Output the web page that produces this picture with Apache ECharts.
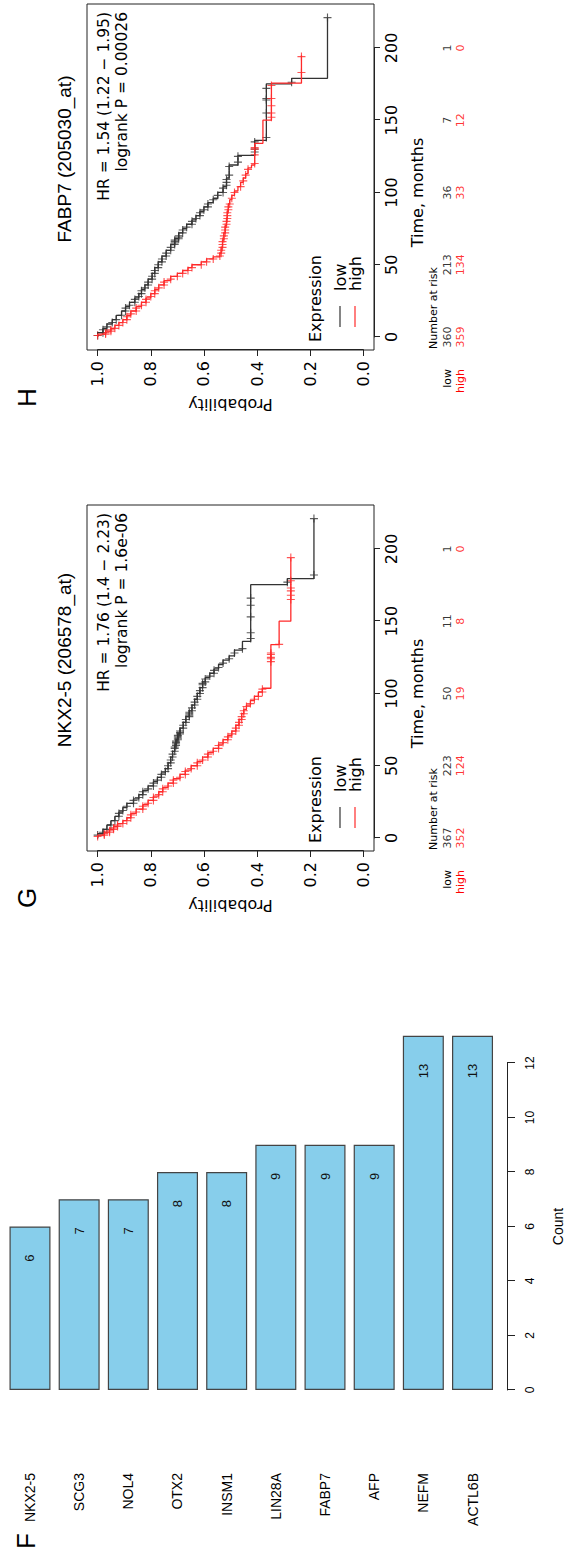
<!DOCTYPE html>
<html>
<head>
<meta charset="utf-8">
<script src="https://cdn.jsdelivr.net/npm/echarts@6/dist/echarts.min.js"></script>
<style>
html,body{margin:0;padding:0;background:#fff;width:570px;height:1553px;overflow:hidden;}
#wrap{position:absolute;left:0;top:0;width:1553px;height:570px;transform-origin:0 0;transform:translate(0px,1553px) rotate(-90deg);background:#fff;}
</style>
</head>
<body>
<div id="wrap"></div>
<script>
// ---------- Panel F data ----------
const categories = ['NKX2-5','SCG3','NOL4','OTX2','INSM1','LIN28A','FABP7','AFP','NEFM','ACTL6B'];
const counts = [6,7,7,8,8,9,9,9,13,13];

// ---------- Panel G (NKX2-5) KM data: [time, survival after time] ----------
const gLowSteps = [[0,1.0],[3,0.98],[6,0.965],[9,0.95],[12,0.935],[15,0.92],[18,0.905],[21,0.89],[24,0.865],[27,0.845],[30,0.83],[33,0.81],[36,0.79],[39,0.775],[42,0.76],[45,0.745],[48,0.735],[52,0.725],[56,0.718],[60,0.71],[64,0.705],[68,0.698],[72,0.69],[76,0.678],[80,0.668],[84,0.655],[88,0.645],[92,0.635],[96,0.625],[100,0.615],[104,0.605],[108,0.595],[111,0.578],[114,0.562],[117,0.545],[120,0.528],[123,0.505],[126,0.485],[130,0.455],[136,0.424],[175.3,0.286],[179.4,0.186],[221,0.186]];
const gLowCensor = [2,4,6,9,12,15,17,19,22,24,26,28,30,32,34,36,38,40,42,44,46,48,50,52,54,56,58,60,62,63,64,65,66,67,68,69,70,71,72,73,74,76,78,80,82,84,85,86,87,88,90,92,94,96,98,100,102,104,106,107,108,110,112,114,116,118,121,124,128,131,138,142,153,161,166,177,182,221];
const gHighSteps = [[0,1.0],[2,0.975],[4,0.955],[6,0.94],[8,0.925],[10,0.905],[12,0.89],[14,0.875],[17,0.855],[20,0.83],[23,0.81],[26,0.79],[29,0.77],[32,0.755],[35,0.735],[38,0.715],[41,0.69],[44,0.67],[47,0.648],[50,0.625],[53,0.605],[56,0.585],[59,0.565],[62,0.545],[65,0.528],[68,0.51],[71,0.495],[74,0.48],[78,0.468],[82,0.458],[86,0.45],[89,0.44],[92,0.425],[95,0.41],[98,0.395],[101,0.38],[103.6,0.348],[133.8,0.317],[150,0.273],[194,0.273]];
const gHighCensor = [1,2,3,4,5,6,7,8,9,10,12,14,16,18,20,22,24,26,28,30,32,34,36,38,40,42,44,46,48,50,52,54,56,58,60,62,64,66,68,70,72,74,76,78,80,82,84,86,88,91,93,96,98,101,103,122,124,125,127,128,134,165,168,171,173,178,194];

// ---------- Panel H (FABP7) KM data ----------
const hLowSteps = [[0,1.0],[3,0.98],[6,0.965],[9,0.945],[12,0.93],[15,0.91],[18,0.895],[21,0.88],[24,0.86],[27,0.845],[30,0.835],[33,0.822],[36,0.81],[40,0.795],[44,0.785],[48,0.772],[52,0.758],[56,0.742],[60,0.725],[64,0.71],[68,0.695],[72,0.68],[75,0.665],[78,0.645],[81,0.63],[84,0.615],[87,0.6],[90,0.585],[93,0.565],[96,0.548],[100,0.528],[104,0.515],[110,0.505],[119,0.472],[125.7,0.409],[136,0.365],[175.2,0.27],[179,0.135],[221,0.135]];
const hLowCensor = [1,3,5,7,10,12,15,18,20,22,24,26,28,30,32,34,36,38,40,42,44,46,48,50,52,54,56,58,60,62,64,65,66,67,68,69,70,72,74,76,78,80,82,84,86,88,90,92,95,98,100,103,105,107,109,112,118,121,125,128,130,135,138,155,164,165,172,176.3,221];
const hHighSteps = [[0,1.0],[2,0.97],[4,0.95],[6,0.935],[8,0.92],[10,0.905],[12,0.89],[15,0.875],[18,0.855],[21,0.835],[24,0.818],[27,0.8],[30,0.785],[33,0.77],[36,0.75],[39,0.725],[42,0.7],[44,0.68],[46,0.66],[48,0.645],[50,0.61],[52,0.59],[54,0.565],[55.5,0.54],[58,0.535],[62,0.53],[67,0.525],[72,0.52],[77,0.515],[82,0.512],[87,0.508],[92,0.503],[95,0.495],[98,0.485],[101,0.472],[104,0.462],[107,0.452],[110,0.443],[113,0.434],[117,0.421],[119,0.409],[134,0.378],[150,0.346],[175.6,0.233],[195,0.233]];
const hHighCensor = [1,2,3,4,5,6,8,10,12,14,16,18,20,22,24,26,28,30,32,34,36,38,40,42,44,46,48,50,52,54,56,58,60,62,64,66,68,70,72,74,76,78,80,82,84,86,88,90,92,96,100,104,108,112,116,120,126,130,131,152,155,160,165,174,183,194];

// ---------- Number at risk ----------
const riskTimes = [0,50,100,150,200];
const gRiskLow = [367,223,50,11,1];
const gRiskHigh = [352,124,19,8,0];
const hRiskLow = [360,213,36,7,1];
const hRiskHigh = [359,134,33,12,0];

// ---------- Texts ----------
const gTitle = 'NKX2-5 (206578_at)';
const hTitle = 'FABP7 (205030_at)';
const gStats = ['HR = 1.76 (1.4 \u2212 2.23)', 'logrank P = 1.6e-06'];
const hStats = ['HR = 1.54 (1.22 \u2212 1.95)', 'logrank P = 0.00026'];

const SANS = "'Liberation Sans', Arial, Helvetica, sans-serif";
const DJ = "'DejaVu Sans', sans-serif";
const PLUS = 'path://M4.3,0L5.7,0L5.7,4.3L10,4.3L10,5.7L5.7,5.7L5.7,10L4.3,10L4.3,5.7L0,5.7L0,4.3L4.3,4.3Z';

function stepAt(steps, t) {
  let p = steps[0][1];
  for (const s of steps) { if (s[0] <= t) p = s[1]; else break; }
  return p;
}

const grid = [], xAxis = [], yAxis = [], series = [], graphic = [];

// ---------- Panel F ----------
grid.push({left:163, top:5.4, width:354.25, height:491.7});
xAxis.push({gridIndex:0, type:'value', min:0, max:13, show:false});
yAxis.push({gridIndex:0, type:'category', data:categories, inverse:true,
  axisLine:{show:false}, axisTick:{show:false},
  axisLabel:{interval:0, margin:83, fontSize:14, color:'#000', fontFamily:SANS}});
grid.push({left:163, top:5, width:327, height:507});
xAxis.push({gridIndex:1, type:'value', min:0, max:12, interval:2,
  axisLine:{show:true, lineStyle:{color:'#222', width:1}},
  axisTick:{show:true, length:8, lineStyle:{color:'#222'}},
  axisLabel:{margin:17, fontSize:12, color:'#000', fontFamily:SANS},
  splitLine:{show:false},
  name:'Count', nameLocation:'middle', nameGap:44,
  nameTextStyle:{fontSize:14, color:'#000', fontFamily:SANS}});
yAxis.push({gridIndex:1, type:'value', show:false, min:0, max:1});
series.push({type:'bar', xAxisIndex:0, yAxisIndex:0, data:counts, barWidth:41,
  itemStyle:{color:'#87CEEB', borderColor:'#444', borderWidth:1.2},
  label:{show:true, position:'insideRight', distance:28, fontSize:13, color:'#111', fontFamily:SANS}});
graphic.push({type:'text', x:4, y:26, style:{text:'F', fontSize:26, fontFamily:SANS, fill:'#000', verticalAlign:'middle', align:'left'}});

// ---------- KM panels ----------
function km(dx, letter, title, stats, lowSteps, lowCensor, highSteps, highCensor, riskLow, riskHigh) {
  const g0 = grid.length;
  grid.push({left:702+dx, top:87, width:346, height:287, show:true, borderColor:'#222', borderWidth:1, backgroundColor:'transparent'});
  xAxis.push({gridIndex:g0, type:'value', min:-9, max:230.4, show:false});
  yAxis.push({gridIndex:g0, type:'value', min:-0.04, max:1.04, show:false});
  grid.push({left:715+dx, top:87, width:289.06, height:287});
  xAxis.push({gridIndex:g0+1, type:'value', min:0, max:200, interval:50,
    axisLine:{show:true, lineStyle:{color:'#222'}},
    axisTick:{show:true, length:6, lineStyle:{color:'#222'}},
    axisLabel:{margin:9, fontSize:16, color:'#000', fontFamily:DJ},
    splitLine:{show:false},
    name:'Time, months', nameLocation:'middle', nameGap:35,
    nameTextStyle:{fontSize:16, color:'#000', fontFamily:DJ}});
  yAxis.push({gridIndex:g0+1, type:'value', min:0, max:1, show:false});
  grid.push({left:702+dx, top:97.63, width:346, height:265.74});
  xAxis.push({gridIndex:g0+2, type:'value', min:0, max:1, show:false});
  yAxis.push({gridIndex:g0+2, type:'value', min:0, max:1, interval:0.2,
    axisLine:{show:true, lineStyle:{color:'#222'}},
    axisTick:{show:true, length:6, lineStyle:{color:'#222'}},
    axisLabel:{margin:11, fontSize:16, color:'#000', fontFamily:DJ, formatter:v=>v.toFixed(1)},
    splitLine:{show:false},
    name:'Probability', nameLocation:'middle', nameGap:46, nameRotate:90,
    nameTextStyle:{fontSize:16, color:'#000', fontFamily:DJ}});
  grid.push({left:715+dx, top:440.5, width:289.06, height:26});
  xAxis.push({gridIndex:g0+3, type:'value', min:0, max:200, show:false});
  yAxis.push({gridIndex:g0+3, type:'category', data:['low','high'], inverse:true,
    axisLine:{show:false}, axisTick:{show:false},
    axisLabel:{interval:0, hideOverlap:false, margin:32, formatter:v=>'{'+v+'|'+v+'}',
      rich:{low:{color:'#000', fontSize:11, fontFamily:DJ}, high:{color:'#ff0000', fontSize:11, fontFamily:DJ}}}});

  const lines = [[lowSteps, lowCensor, '#333'], [highSteps, highCensor, '#ff2a2a']];
  for (const [st, ce, col] of lines) {
    series.push({type:'line', xAxisIndex:g0, yAxisIndex:g0, data:st, step:'end', symbol:'none',
      lineStyle:{color:col, width:1.3}, silent:true});
    series.push({type:'scatter', xAxisIndex:g0, yAxisIndex:g0, data:ce.map(t=>[t, stepAt(st,t)]),
      symbol:PLUS, symbolSize:8, itemStyle:{color:col}, silent:true});
  }
  const rows = [['low', riskLow, '#000'], ['high', riskHigh, '#ff0000']];
  for (const [name, vals, col] of rows) {
    series.push({type:'scatter', xAxisIndex:g0+3, yAxisIndex:g0+3,
      data:riskTimes.map((t,i)=>[t, name, vals[i]]), symbolSize:1, itemStyle:{color:'rgba(0,0,0,0)'},
      label:{show:true, position:'inside', formatter:p=>String(p.value[2]), color:col, fontSize:11, fontFamily:DJ}});
  }
  graphic.push({type:'text', x:645+dx, y:27, style:{text:letter, fontSize:26, fontFamily:SANS, fill:'#000', verticalAlign:'middle', align:'left'}});
  graphic.push({type:'text', x:893+dx, y:64, style:{text:title, fontSize:19, fontFamily:SANS, fill:'#000', verticalAlign:'middle', align:'center'}});
  graphic.push({type:'text', x:1040+dx, y:104, style:{text:stats[0], fontSize:15.5, fontFamily:DJ, fill:'#000', verticalAlign:'middle', align:'right'}});
  graphic.push({type:'text', x:1040+dx, y:122, style:{text:stats[1], fontSize:15.5, fontFamily:DJ, fill:'#000', verticalAlign:'middle', align:'right'}});
  graphic.push({type:'text', x:710+dx, y:315, style:{text:'Expression', fontSize:16, fontFamily:DJ, fill:'#000', verticalAlign:'middle', align:'left'}});
  graphic.push({type:'line', shape:{x1:725+dx, y1:340, x2:746+dx, y2:340}, style:{stroke:'#333', lineWidth:1.2}});
  graphic.push({type:'line', shape:{x1:725+dx, y1:355, x2:746+dx, y2:355}, style:{stroke:'#ff2a2a', lineWidth:1.2}});
  graphic.push({type:'text', x:761+dx, y:340, style:{text:'low', fontSize:16, fontFamily:DJ, fill:'#000', verticalAlign:'middle', align:'left'}});
  graphic.push({type:'text', x:761+dx, y:355, style:{text:'high', fontSize:16, fontFamily:DJ, fill:'#000', verticalAlign:'middle', align:'left'}});
  graphic.push({type:'text', x:703+dx, y:433, style:{text:'Number at risk', fontSize:11, fontFamily:DJ, fill:'#000', verticalAlign:'middle', align:'left'}});
}

km(0, 'G', gTitle, gStats, gLowSteps, gLowCensor, gHighSteps, gHighCensor, gRiskLow, gRiskHigh);
km(501, 'H', hTitle, hStats, hLowSteps, hLowCensor, hHighSteps, hHighCensor, hRiskLow, hRiskHigh);

const chart = echarts.init(document.getElementById('wrap'), null, {renderer:'svg', width:1553, height:570});
chart.setOption({animation:false, backgroundColor:'#fff', grid, xAxis, yAxis, series, graphic});
</script>
</body>
</html>
